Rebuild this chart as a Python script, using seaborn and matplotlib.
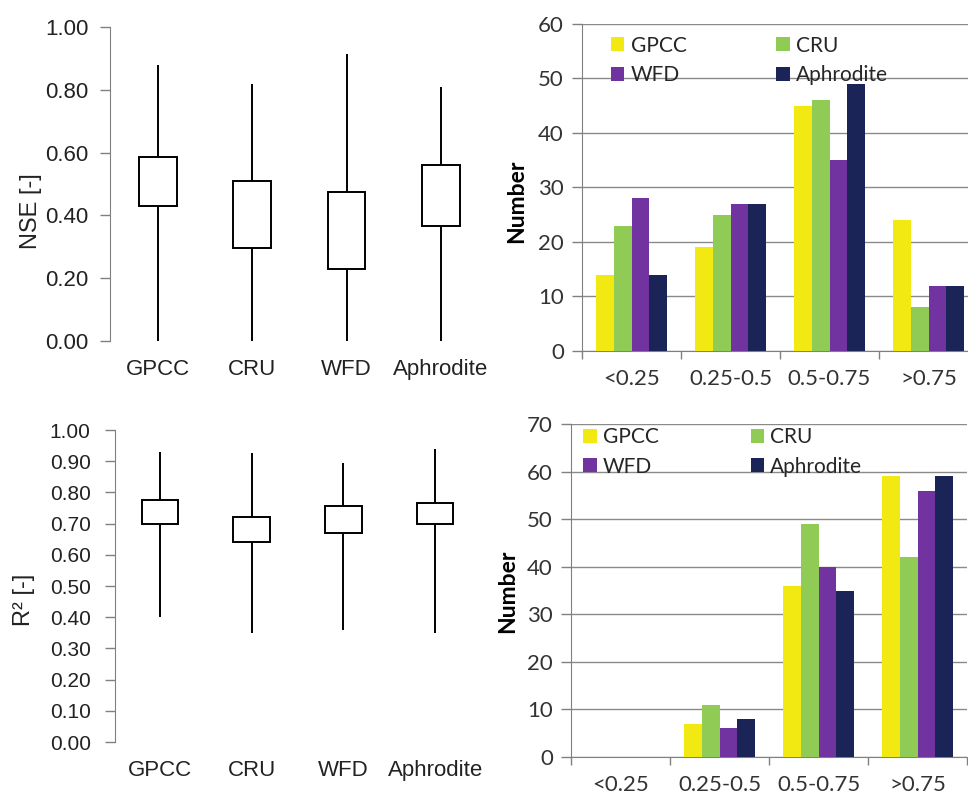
import pandas as pd
import matplotlib
matplotlib.use('Agg')
import matplotlib.pyplot as plt
import seaborn as sns

# data
datasets = ['GPCC', 'CRU', 'WFD', 'Aphrodite']
classes = ['<0.25', '0.25-0.5', '0.5-0.75', '>0.75']

nse_min = [0.00, 0.00, 0.00, 0.00]
nse_q1 = [0.43, 0.295, 0.23, 0.365]
nse_q3 = [0.585, 0.51, 0.475, 0.56]
nse_max = [0.88, 0.82, 0.915, 0.81]

r2_min = [0.40, 0.35, 0.36, 0.35]
r2_q1 = [0.70, 0.64, 0.67, 0.70]
r2_q3 = [0.775, 0.72, 0.755, 0.765]
r2_max = [0.93, 0.925, 0.895, 0.94]

nse_gpcc = [14, 19, 45, 24]
nse_cru = [23, 25, 46, 8]
nse_wfd = [28, 27, 35, 12]
nse_aphro = [14, 27, 49, 12]

r2_gpcc = [0, 7, 36, 59]
r2_cru = [0, 11, 49, 42]
r2_wfd = [0, 6, 40, 56]
r2_aphro = [0, 8, 35, 59]

colors = ['#F2E812', '#90CB55', '#7133A0', '#1B2457']

sns.set_style('ticks')
plt.rcParams['font.family'] = ['Liberation Sans', 'DejaVu Sans']
GRAY = '#808080'


def box_frame(mins, q1s, q3s, maxs):
    # six points per dataset so the quartiles land exactly on q1 / q3
    rows = []
    for name, a, b, c, d in zip(datasets, mins, q1s, q3s, maxs):
        for v in [a, b, b, c, c, d]:
            rows.append({'dataset': name, 'value': v})
    return pd.DataFrame(rows)


def bar_frame(series):
    rows = []
    for name, vals in zip(datasets, series):
        for cl, v in zip(classes, vals):
            rows.append({'cls': cl, 'dataset': name, 'count': v})
    return pd.DataFrame(rows)


def draw_box(ax, df, ylabel, yticks, ysize, label_xy, xlim_left, ypad):
    sns.boxplot(data=df, x='dataset', y='value', order=datasets, ax=ax,
                color='white', linecolor='black', linewidth=1.4, width=0.4,
                whis=(0, 100), showfliers=False, showcaps=False,
                medianprops={'visible': False})
    ax.set_xlim(xlim_left, 3.5)
    ax.set_ylim(0, 1)
    ax.set_yticks(yticks)
    ax.set_yticklabels(['{:.2f}'.format(t) for t in yticks], fontsize=ysize, color='#222222')
    ax.set_xticks(range(4))
    ax.set_xticklabels(datasets, fontsize=16, color='#222222')
    ax.tick_params(axis='x', length=0, pad=13)
    ax.tick_params(axis='y', length=7.5, width=1, color=GRAY, pad=ypad)
    for s in ['top', 'right', 'bottom']:
        ax.spines[s].set_visible(False)
    ax.spines['left'].set_color(GRAY)
    ax.set_xlabel('')
    ax.set_ylabel(ylabel, fontsize=17, color='#222222')
    ax.yaxis.set_label_coords(*label_xy)


def draw_bars(ax, df, ymax, label_xy, legend_anchor, colspace):
    sns.barplot(data=df, x='cls', y='count', hue='dataset', order=classes,
                hue_order=datasets, palette=colors, saturation=1,
                width=0.72, gap=0, errorbar=None, linewidth=0, ax=ax, zorder=3)
    ax.set_xlim(-0.5, 3.5)
    ax.set_ylim(0, ymax)
    ax.set_yticks(range(0, ymax + 1, 10))
    ax.set_yticklabels([str(t) for t in range(0, ymax + 1, 10)],
                       fontsize=16, family='Lato', color='#333333')
    ax.yaxis.grid(True, color='#8a8a8a', linewidth=1, zorder=0)
    ax.set_axisbelow(True)
    ax.set_xticks(range(4))
    ax.set_xticklabels(classes, fontsize=16, family='Lato', color='#333333')
    ax.set_xticks([-0.5, 0.5, 1.5, 2.5, 3.5], minor=True)
    ax.tick_params(axis='x', which='major', length=0, pad=13)
    ax.tick_params(axis='x', which='minor', length=6, width=1, color=GRAY)
    ax.tick_params(axis='y', length=7, width=1, color=GRAY, pad=6)
    for s in ['top', 'right']:
        ax.spines[s].set_visible(False)
    for s in ['left', 'bottom']:
        ax.spines[s].set_color(GRAY)
    ax.set_xlabel('')
    ax.set_ylabel('Number', fontsize=16.5, family='Lato', fontweight='bold', color='black')
    ax.yaxis.set_label_coords(*label_xy)
    # legend fills row by row in the reference: GPCC, CRU / WFD, Aphrodite
    handles, labels = ax.get_legend_handles_labels()
    order = [0, 2, 1, 3]
    ax.legend([handles[i] for i in order], [labels[i] for i in order],
              ncol=2, frameon=False, loc='upper left', bbox_to_anchor=legend_anchor,
              prop={'family': 'Lato', 'size': 15}, handlelength=0.65, handleheight=0.65,
              handletextpad=0.3, columnspacing=colspace, labelspacing=0.45, borderaxespad=0)


W, H = 968, 796
fig = plt.figure(figsize=(W / 100, H / 100), dpi=100)

ax1 = fig.add_axes([110 / W, 1 - 341 / H, 378 / W, 314 / H])
ax2 = fig.add_axes([582 / W, 1 - 351 / H, 396 / W, 327 / H])
ax3 = fig.add_axes([115 / W, 1 - 742 / H, 366 / W, 312 / H])
ax4 = fig.add_axes([571 / W, 1 - 757 / H, 396 / W, 333 / H])

draw_box(ax1, box_frame(nse_min, nse_q1, nse_q3, nse_max), 'NSE [-]',
         [0, 0.2, 0.4, 0.6, 0.8, 1.0], 16, (-0.18, 0.414), -0.51, 8)
draw_box(ax3, box_frame(r2_min, r2_q1, r2_q3, r2_max), 'R² [-]',
         [i / 10 for i in range(11)], 15, (-0.219, 0.455), -0.49, 10)

draw_bars(ax2, bar_frame([nse_gpcc, nse_cru, nse_wfd, nse_aphro]), 60,
          (-0.139, 0.459), (0.052, 0.99), 4.3)
draw_bars(ax4, bar_frame([r2_gpcc, r2_cru, r2_wfd, r2_aphro]), 70,
          (-0.134, 0.498), (0.01, 1.015), 4.4)

fig.savefig('out.png', dpi=100)
